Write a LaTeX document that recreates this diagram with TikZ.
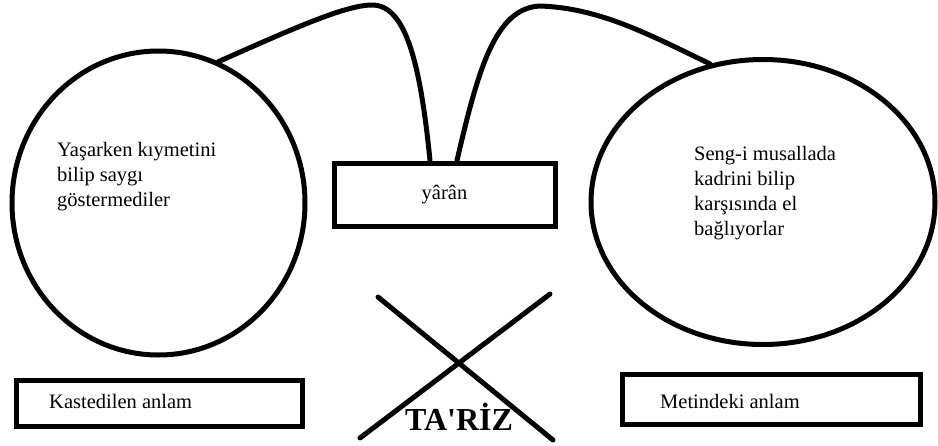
\documentclass[tikz,border=0pt]{standalone}
\usepackage{fontspec}
\setmainfont{Liberation Serif}
% family without the TeX quote mapping, so ' stays a straight apostrophe
\newfontfamily\plainserif{Liberation Serif}
\usetikzlibrary{shapes.geometric}
\begin{document}
\begin{tikzpicture}[x=1pt,y=-1pt,
  outline/.style={line width=5pt},
  bubble/.style={outline, draw, ellipse, inner sep=0pt},
  frame/.style={outline, draw, rectangle, inner sep=0pt},
  lbl/.style={font=\plainserif\fontsize{20.5}{25}\selectfont, inner sep=0pt},
  link/.style={outline, line cap=round},
  strike/.style={outline, line cap=round}]
\useasboundingbox (0,0) rectangle (938,445);

% the two bubbles
\node[bubble, minimum width=293pt, minimum height=304pt] (lc) at (158.5,203) {};
\node[bubble, minimum width=344pt, minimum height=285pt] (re) at (763,202) {};
\node[lbl, align=left, anchor=west] (lt) at (57,177) {Yaşarken kıymetini\\bilip saygı\\göstermediler};
\node[lbl, align=left, anchor=west] (rt) at (694,193) {Seng-i musallada\\kadrini bilip\\karşısında el\\bağlıyorlar};

% middle box
\node[frame, lbl, minimum width=221pt, minimum height=63pt] (yr) at (444.5,194.5) {yârân};

% bottom boxes
\node[frame, minimum width=286pt, minimum height=46pt] (kb) at (159,403) {};
\node[lbl, anchor=base west] (kt) at (49,408) {Kastedilen anlam};
\node[frame, minimum width=298pt, minimum height=50pt] (mb) at (771,399) {};
\node[lbl, anchor=base west] (mt) at (660,408) {Metindeki anlam};

% crossed-out label
\coordinate (xa1) at (378,297);
\coordinate (xa2) at (553,440);
\coordinate (xb1) at (550,294);
\coordinate (xb2) at (360,438);
\draw[strike] (xa1) -- (xa2);
\draw[strike] (xb1) -- (xb2);
\node[font=\plainserif\bfseries\fontsize{32}{36}\selectfont, anchor=base, inner sep=0pt] (tz) at (459,430) {TA'RİZ};

% arcs joining the bubbles to the middle box
\draw[link] (lc.67) .. controls (290,30) and (345,5) .. (372,5)
  .. controls (405,5) and (420,60) .. ([xshift=-14.5pt]yr.north);
\draw[link] ([xshift=12.5pt]yr.north) .. controls (478,70) and (495,8) .. (540,6)
  .. controls (600,8) and (650,35) .. (re.111);
\end{tikzpicture}
\end{document}
